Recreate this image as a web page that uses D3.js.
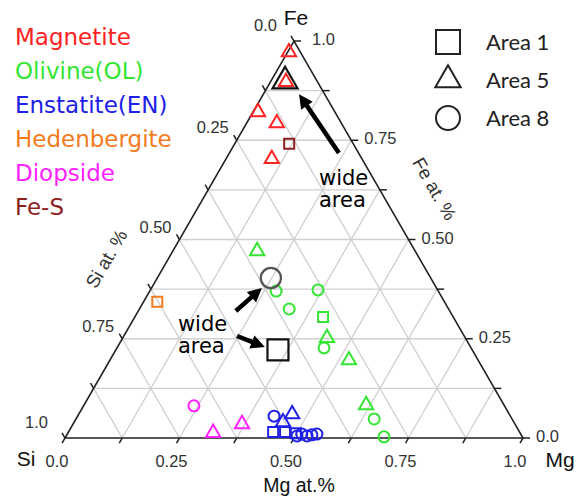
<!DOCTYPE html>
<html>
<head>
<meta charset="utf-8">
<script src="https://cdn.jsdelivr.net/npm/d3@7"></script>
<style>
  html, body { margin: 0; padding: 0; background: #fff; }
  svg { display: block; }
</style>
</head>
<body>
<svg id="chart" width="576" height="496"></svg>
<script>
// ---------------- DATA (compositions as [Si, Mg, Fe] fractions) ----------------
const phases = ["Magnetite", "Olivine(OL)", "Enstatite(EN)", "Hedenbergite", "Diopside", "Fe-S"];
const areas = ["Area 1", "Area 5", "Area 8"];

const magnetite = [
  ["Area 5", 0.025, 0.003, 0.972],
  ["Area 5", 0.069, 0.034, 0.897],
  ["Area 5", 0.168, 0.011, 0.821],
  ["Area 5", 0.141, 0.066, 0.793],
  ["Area 5", 0.197, 0.100, 0.703]
];
const olivine = [
  ["Area 5", 0.345, 0.184, 0.471],
  ["Area 8", 0.354, 0.276, 0.370],
  ["Area 8", 0.261, 0.366, 0.373],
  ["Area 8", 0.348, 0.327, 0.325],
  ["Area 1", 0.284, 0.411, 0.305],
  ["Area 5", 0.302, 0.446, 0.252],
  ["Area 8", 0.321, 0.452, 0.227],
  ["Area 5", 0.282, 0.522, 0.196],
  ["Area 5", 0.301, 0.616, 0.083],
  ["Area 8", 0.301, 0.651, 0.048],
  ["Area 8", 0.302, 0.695, 0.003]
];
const enstatite = [
  ["Area 8", 0.516, 0.429, 0.055],
  ["Area 5", 0.474, 0.466, 0.060],
  ["Area 5", 0.504, 0.456, 0.040],
  ["Area 1", 0.538, 0.447, 0.015],
  ["Area 1", 0.512, 0.473, 0.015],
  ["Area 1", 0.490, 0.498, 0.012],
  ["Area 8", 0.491, 0.504, 0.005],
  ["Area 8", 0.478, 0.512, 0.010],
  ["Area 8", 0.469, 0.526, 0.005],
  ["Area 8", 0.457, 0.535, 0.008],
  ["Area 8", 0.445, 0.545, 0.010]
];
const hedenbergite = [
  ["Area 1", 0.627, 0.030, 0.343]
];
const diopside = [
  ["Area 8", 0.678, 0.241, 0.081],
  ["Area 5", 0.670, 0.317, 0.013],
  ["Area 5", 0.596, 0.369, 0.035]
];
const feS = [
  ["Area 1", 0.140, 0.119, 0.741]
];
// wide-area analyses
const wideArea = [
  ["Area 1", 0.424, 0.354, 0.222],
  ["Area 8", 0.349, 0.248, 0.403],
  ["Area 5", 0.070, 0.031, 0.899]
];
// annotation arrows: [fromMg, fromFe, toMg, toFe]
const arrows = [
  [0.239, 0.718, 0.078, 0.866],
  [0.213, 0.320, 0.241, 0.378],
  [0.247, 0.257, 0.322, 0.229]
];
// annotation labels: [Mg, Fe] of first baseline
const wideLabels = [
  [0.236, 0.637],
  [0.112, 0.269]
];
const tickValues = [0, 0.125, 0.25, 0.375, 0.5, 0.625, 0.75, 0.875, 1];
const tickLabels = ["0.0", "0.25", "0.50", "0.75", "1.0"];
const labelTicks = [0, 0.25, 0.5, 0.75, 1];

// ---------------- STYLE ----------------
const phaseColors = ["#ff2222", "#33e633", "#2020e8", "#f27b1e", "#ff22ff", "#8e1f1f"];
const phaseSets = [magnetite, olivine, enstatite, hedenbergite, diopside, feS];
const symbolOf = { "Area 1": d3.symbolSquare, "Area 5": d3.symbolTriangle, "Area 8": d3.symbolCircle };
const smallSize = { "Area 1": 100, "Area 5": 88, "Area 8": 95 };
const wideSize = { "Area 1": 441, "Area 5": 270, "Area 8": 320 };
const wideColor = { "Area 1": "#111", "Area 5": "#111", "Area 8": "#555" };

// ---------------- GEOMETRY ----------------
const svg = d3.select("#chart");
const xs = d3.scaleLinear().domain([0, 1]).range([65, 523]);   // Mg + Fe/2
const ys = d3.scaleLinear().domain([0, 1]).range([438, 41]);   // Fe
const P = (mg, fe) => [xs(mg + fe / 2), ys(fe)];

const g = svg.append("g");

// grid
const grid = g.append("g").attr("stroke", "#cfcfcf").attr("stroke-width", 1.3).attr("fill", "none");
tickValues.filter(t => t > 0 && t < 1).forEach(t => {
  let a = P(0, t), b = P(1 - t, t);
  grid.append("line").attr("x1", a[0]).attr("y1", a[1]).attr("x2", b[0]).attr("y2", b[1]);
  a = P(t, 0); b = P(t, 1 - t);
  grid.append("line").attr("x1", a[0]).attr("y1", a[1]).attr("x2", b[0]).attr("y2", b[1]);
  a = P(1 - t, 0); b = P(0, 1 - t);
  grid.append("line").attr("x1", a[0]).attr("y1", a[1]).attr("x2", b[0]).attr("y2", b[1]);
});

// triangle frame
const vSi = P(0, 0), vMg = P(1, 0), vFe = P(0, 1);
g.append("path")
  .attr("d", d3.line()([vSi, vMg, vFe]) + "Z")
  .attr("fill", "none").attr("stroke", "#222").attr("stroke-width", 1.6);

// ticks
const ticks = g.append("g").attr("stroke", "#222").attr("stroke-width", 1.5);
const c60 = 0.5, s60 = Math.sqrt(3) / 2, TL = 6;
tickValues.forEach(t => {
  let p = P(t, 0);
  ticks.append("line").attr("x1", p[0]).attr("y1", p[1]).attr("x2", p[0] - c60 * TL).attr("y2", p[1] + s60 * TL);
  p = P(1 - t, t);
  ticks.append("line").attr("x1", p[0]).attr("y1", p[1]).attr("x2", p[0] + TL + 1).attr("y2", p[1]);
  p = P(0, 1 - t);
  ticks.append("line").attr("x1", p[0]).attr("y1", p[1]).attr("x2", p[0] - c60 * TL).attr("y2", p[1] - s60 * TL);
});

// tick labels
const tl = g.append("g").attr("font-family", "Liberation Sans, Arial, sans-serif").attr("font-size", 16.5).attr("fill", "#333");
labelTicks.forEach((t, i) => {
  const end = (t === 0 || t === 1);
  let p = P(t, 0);
  tl.append("text").attr("x", p[0] - 8).attr("y", 467).attr("text-anchor", "middle").text(tickLabels[i]);
  p = P(1 - t, t);
  tl.append("text").attr("x", p[0] + (t === 1 ? 18 : 13)).attr("y", p[1] + 4).attr("text-anchor", "start").text(tickLabels[i]);
  p = P(0, 1 - t);
  tl.append("text").attr("x", p[0] - (end ? 17 : 8)).attr("y", p[1] - (end ? 10 : 7)).attr("text-anchor", "end").text(tickLabels[i]);
});

// vertex and axis titles
const ttl = g.append("g").attr("font-family", "Liberation Sans, Arial, sans-serif").attr("fill", "#111");
ttl.append("text").attr("x", vFe[0] + 2).attr("y", 25).attr("text-anchor", "middle").attr("font-size", 21).text("Fe");
ttl.append("text").attr("x", 26).attr("y", 466).attr("text-anchor", "middle").attr("font-size", 21).text("Si");
ttl.append("text").attr("x", 560).attr("y", 467).attr("text-anchor", "middle").attr("font-size", 21).text("Mg");
ttl.append("text").attr("x", 299).attr("y", 492).attr("text-anchor", "middle").attr("font-size", 19.5).text("Mg at.%");
ttl.append("text").attr("transform", "translate(112,262) rotate(-60)").attr("text-anchor", "middle")
  .attr("font-size", 18.5).attr("fill", "#333").text("Si at. %");
ttl.append("text").attr("transform", "translate(429,192) rotate(60)").attr("text-anchor", "middle")
  .attr("font-size", 18.5).attr("fill", "#333").text("Fe at. %");

// data points
phaseSets.forEach((set, k) => {
  g.append("g").selectAll("path").data(set).join("path")
    .attr("transform", d => { const p = P(d[2], d[3]); return `translate(${p[0]},${p[1]})`; })
    .attr("d", d => d3.symbol(symbolOf[d[0]], smallSize[d[0]])())
    .attr("fill", "none").attr("stroke", phaseColors[k]).attr("stroke-width", 2);
});

// wide area points
g.append("g").selectAll("path").data(wideArea).join("path")
  .attr("transform", d => { const p = P(d[2], d[3]); return `translate(${p[0]},${p[1]})`; })
  .attr("d", d => d3.symbol(symbolOf[d[0]], wideSize[d[0]])())
  .attr("fill", "none").attr("stroke", d => wideColor[d[0]]).attr("stroke-width", 2.2);

// arrows
const ar = g.append("g");
arrows.forEach(a => {
  const f = P(a[0], a[1]), t = P(a[2], a[3]);
  const dx = t[0] - f[0], dy = t[1] - f[1], L = Math.hypot(dx, dy);
  const ux = dx / L, uy = dy / L, HL = 14, HW = 7;
  const bx = t[0] - ux * HL, by = t[1] - uy * HL;
  ar.append("line").attr("x1", f[0]).attr("y1", f[1]).attr("x2", bx + ux * 2).attr("y2", by + uy * 2)
    .attr("stroke", "#000").attr("stroke-width", 4.5);
  ar.append("path").attr("d", d3.line()([t, [bx - uy * HW, by + ux * HW], [bx + uy * HW, by - ux * HW]]) + "Z")
    .attr("fill", "#000");
});

// wide area labels (two separate lines)
wideLabels.forEach(w => {
  const p = P(w[0], w[1]);
  ["wide", "area"].forEach((word, j) => {
    g.append("text").attr("font-family", "DejaVu Sans, Verdana, sans-serif").attr("font-size", 21)
      .attr("fill", "#000").attr("x", p[0]).attr("y", p[1] + j * 22).text(word);
  });
});

// left legend (phases)
const lg = svg.append("g").attr("font-family", "DejaVu Sans, Verdana, sans-serif").attr("font-size", 23);
phases.forEach((name, i) => {
  lg.append("text").attr("x", 15).attr("y", 45 + i * 34).attr("fill", phaseColors[i]).text(name);
});

// right legend (areas)
const rg = svg.append("g");
areas.forEach((a, i) => {
  const cy = 42 + i * 38;
  rg.append("path").attr("transform", `translate(448,${cy})`)
    .attr("d", d3.symbol(symbolOf[a], a === "Area 1" ? 576 : a === "Area 5" ? 280 : 452)())
    .attr("fill", "none").attr("stroke", "#222").attr("stroke-width", 2);
  rg.append("text").attr("x", 486).attr("y", cy + 8).attr("font-family", "Lato, Carlito, sans-serif")
    .attr("font-size", 22).attr("fill", "#222").text(a);
});
</script>
</body>
</html>
